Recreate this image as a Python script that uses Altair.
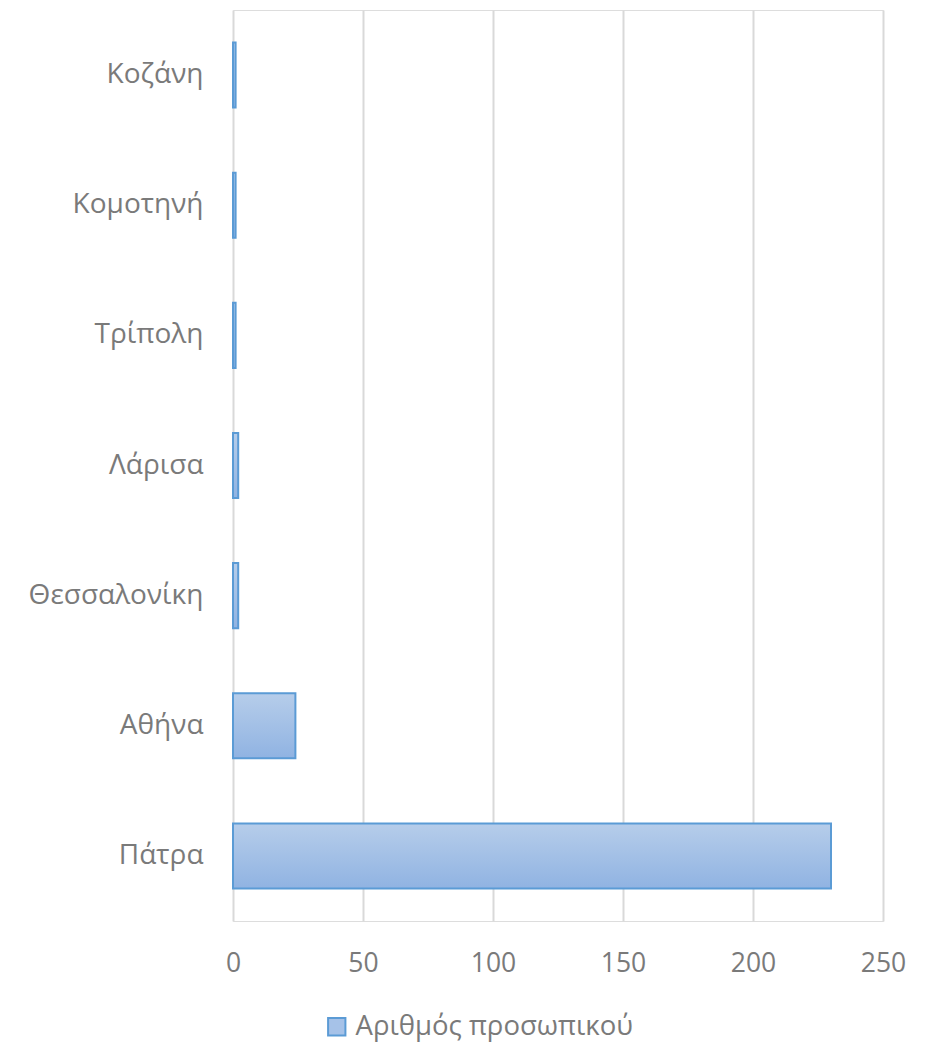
import altair as alt
import pandas as pd

cities = ["Κοζάνη", "Κομοτηνή", "Τρίπολη", "Λάρισα", "Θεσσαλονίκη", "Αθήνα", "Πάτρα"]
staff = [1, 1, 1, 2, 2, 24, 230]
series_name = "Αριθμός προσωπικού"
x_ticks = [0, 50, 100, 150, 200, 250]

df = pd.DataFrame({"city": cities, "staff": staff, "series": series_name})

FONT = "Open Sans"
LABEL = "#7a7a7a"

x_enc = alt.X("staff:Q", scale=alt.Scale(domain=[0, 250], nice=False),
              axis=alt.Axis(values=x_ticks, title=None, domain=False, ticks=False,
                            labelFontSize=26.5, labelColor=LABEL, labelFont=FONT,
                            labelFlush=False,
                            labelPadding=29, grid=True, gridColor="#d9d9d9", gridWidth=2))
y_enc = alt.Y("city:N", sort=cities,
              scale=alt.Scale(paddingInner=0.5, paddingOuter=0.25),
              axis=alt.Axis(title=None, domain=False, ticks=False, grid=False,
                            labelFontSize=28, labelColor=LABEL, labelFont=FONT,
                            labelPadding=30, labelLimit=400))

base = alt.Chart(df)

legend_layer = base.mark_bar().encode(
    x=x_enc, y=y_enc,
    fill=alt.Fill("series:N", scale=alt.Scale(range=["#a6c2e8"]),
                  legend=alt.Legend(title=None, orient="none", legendX=90, legendY=1003,
                                    symbolType="square", symbolSize=300,
                                    symbolStrokeColor="#5b9bd5", symbolStrokeWidth=2,
                                    labelFontSize=27.5, labelColor=LABEL, labelFont=FONT,
                                    labelLimit=500, padding=0, labelOffset=5)),
)

grad = alt.Gradient(gradient="linear", x1=0, y1=0, x2=0, y2=1,
                    stops=[alt.GradientStop(color="#b6cdea", offset=0),
                           alt.GradientStop(color="#90b3e2", offset=1)])

bar_layer = base.mark_bar(fill=grad, stroke="#5b9bd5", strokeWidth=2).encode(
    x=x_enc, y=y_enc,
)

chart = alt.layer(legend_layer, bar_layer).properties(
    width=650, height=911,
    autosize=alt.AutoSizeParams(type="none"),
    padding={"left": 225, "top": 2, "right": 57, "bottom": 124},
).configure_view(stroke=None).configure(background="white")

chart.save("out.html", embed_options={"renderer": "svg", "actions": False})
